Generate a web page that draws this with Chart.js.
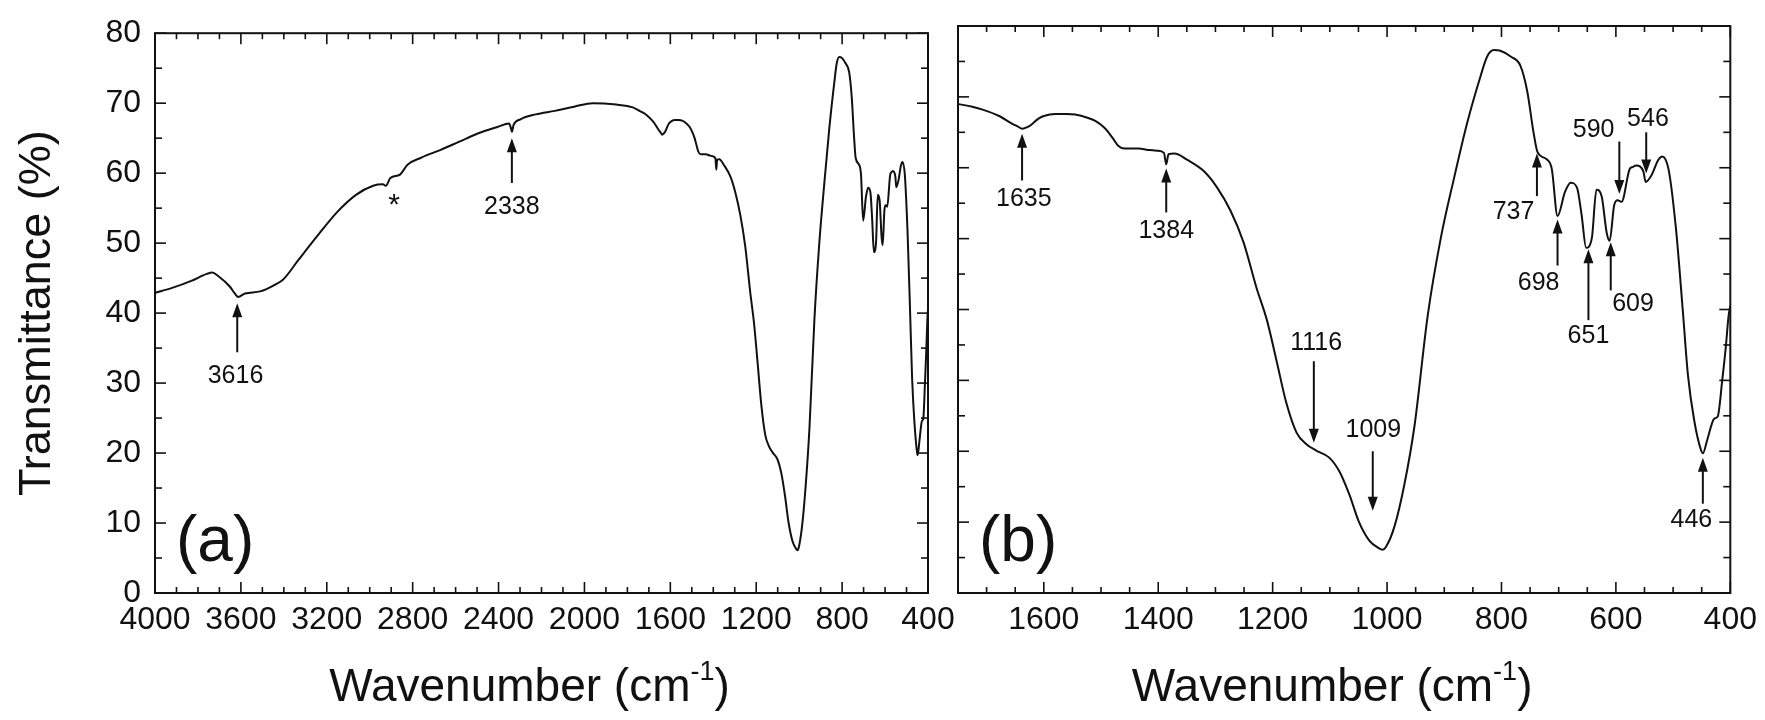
<!DOCTYPE html>
<html><head><meta charset="utf-8">
<script src="https://cdn.jsdelivr.net/npm/chart.js@4.4.1/dist/chart.umd.min.js"></script>
<style>
html,body{margin:0;padding:0;background:#fff;}
#wrap{position:relative;width:1765px;height:720px;}
canvas{position:absolute;left:0;top:0;}
</style></head><body>
<div id="wrap"><canvas id="ca" width="1765" height="720"></canvas><canvas id="cb" width="1765" height="720"></canvas></div>
<script>
// ---- data (wavenumber, transmittance %) ----
const wnHigh = [4000,3920,3831,3759,3733,3706,3652,3626,3613,3581,3510,3439,3403,3332,3242,3153,3064,2984,2939,2925,2904,2859,2841,2824,2761,2672,2583,2494,2405,2351,2342,2338,2330,2298,2227,2138,2048,1961,1852,1775];
const tHigh  = [42.9,43.6,44.6,45.6,45.8,45.3,43.8,42.7,42.3,42.8,43.1,44.1,44.8,47.6,51.1,54.4,56.9,58.2,58.4,58.2,59.3,59.8,60.5,61.2,62.2,63.3,64.5,65.7,66.6,67.1,66.4,65.9,66.9,67.7,68.4,68.9,69.5,70.0,69.8,69.4];
const wnLow = [1750,1725,1707,1678,1655,1645,1638,1630,1623,1610,1600,1580,1560,1545,1525,1510,1495,1487,1478,1470,1459,1435,1415,1401,1390,1386,1382,1372,1349,1320,1297,1274,1251,1228,1210,1193,1176,1158,1141,1124,1101,1083,1066,1049,1031,1014,1008,1002,987,970,952,929,906,883,860,837,825,813,802,784,767,755,744,737,721,712,702,689,679,668,660,652,642,634,625,616,611,603,597,590,576,571,564,552,548,538,526,519,508,495,483,474,463,451,448,440,428,422,414,408,403,400];
const tLow  = [69.0,68.6,68.2,67.3,66.2,65.8,65.5,65.7,66.0,66.9,67.3,67.6,67.6,67.5,67.1,66.6,65.7,65.0,64.0,63.1,62.7,62.7,62.5,62.4,62.1,60.5,61.9,62.0,61.1,59.5,57.2,54.0,49.5,43.0,38.5,32.7,26.8,22.6,21.0,20.1,19.1,17.1,13.9,10.0,7.4,6.3,6.1,6.5,9.4,15.2,23.6,39.1,50.1,58.5,66.3,72.8,75.7,76.6,76.5,75.7,74.4,70.8,65.0,62.2,61.2,59.8,53.2,56.6,57.9,57.2,53.4,48.7,50.1,56.9,56.0,50.8,49.7,54.7,55.4,55.2,59.8,60.1,60.3,59.5,58.0,58.9,61.1,61.6,59.8,51.4,39.8,30.7,24.3,20.1,19.7,21.7,24.6,24.9,30.1,34.6,39.1,40.5];
const xTicksA = [4000,3600,3200,2800,2400,2000,1600,1200,800,400];
const xTicksB = [1600,1400,1200,1000,800,600,400];
const yTicks  = [0,10,20,30,40,50,60,70,80];

// annotations: label text, label centre (x,y), arrow x, arrow tail y, arrow tip y
const annA = [
  {text:'3616', lx:3625, ly:31.0, ax:3617, from:34.4, to:41.4},
  {text:'2338', lx:2338, ly:55.1, ax:2338, from:58.6, to:65.0},
  {text:'*',    lx:2886, ly:55.4}
];
const annB = [
  {text:'1635', lx:1635, ly:55.6, ax:1638, from:58.2, to:64.8},
  {text:'1384', lx:1386, ly:51.1, ax:1386, from:53.7, to:59.9},
  {text:'1116', lx:1124, ly:35.3, ax:1128, from:32.7, to:21.2},
  {text:'1009', lx:1024, ly:23.0, ax:1025, from:20.0, to:11.6},
  {text:'737',  lx:779,  ly:53.7, ax:738,  from:56.0, to:62.0},
  {text:'698',  lx:735,  ly:43.7, ax:702,  from:46.2, to:52.7},
  {text:'651',  lx:648,  ly:36.2, ax:648,  from:38.5, to:48.5},
  {text:'609',  lx:570,  ly:40.7, ax:609,  from:42.7, to:49.5},
  {text:'590',  lx:639,  ly:65.3, ax:594,  from:63.7, to:56.3},
  {text:'546',  lx:544,  ly:66.8, ax:547,  from:65.0, to:59.2},
  {text:'446',  lx:468,  ly:10.3, ax:448,  from:12.6, to:19.1}
];

const FONT = "'Liberation Sans', Arial, sans-serif";
const pts = (w, t) => w.map((v, i) => ({x: v, y: t[i]}));

const framePlugin = {
  id: 'frame',
  beforeDraw(chart, args, o) {
    if (o.bg) { const c = chart.ctx; c.save(); c.fillStyle = '#fff'; c.fillRect(0,0,chart.width,chart.height); c.restore(); }
  },
  afterDatasetsDraw(chart, args, o) {
    const {ctx, chartArea: a, scales: {x, y}} = chart;
    ctx.save();
    ctx.strokeStyle = '#111'; ctx.lineWidth = 2;
    ctx.strokeRect(a.left, a.top, a.right - a.left, a.bottom - a.top);
    ctx.lineWidth = 1.6;
    const ln = (x1, y1, x2, y2) => { ctx.beginPath(); ctx.moveTo(x1, y1); ctx.lineTo(x2, y2); ctx.stroke(); };
    for (let v = o.xMin; v <= o.xMax; v += o.xMinor) {
      const px = x.getPixelForValue(v);
      const len = (v % o.xMajor === 0) ? 11 : 6;
      ln(px, a.bottom, px, a.bottom - len);
      ln(px, a.top, px, a.top + len);
    }
    for (let v = 0; v <= 80; v += 5) {
      const py = y.getPixelForValue(v);
      const len = (v % 10 === 0) ? 11 : 7;
      ln(a.left, py, a.left + len, py);
      ln(a.right, py, a.right - len, py);
    }
    // annotations
    ctx.fillStyle = '#111'; ctx.strokeStyle = '#111';
    ctx.textAlign = 'center'; ctx.textBaseline = 'middle';
    for (const n of o.ann) {
      ctx.font = (n.text === '*' ? '30px ' : '25px ') + FONT;
      ctx.fillText(n.text, x.getPixelForValue(n.lx), y.getPixelForValue(n.ly));
      if (n.ax === undefined) continue;
      const ax = x.getPixelForValue(n.ax);
      const y1 = y.getPixelForValue(n.from), y2 = y.getPixelForValue(n.to);
      const dir = Math.sign(y2 - y1);
      ctx.lineWidth = 2;
      ln(ax, y1, ax, y2 - dir * 12);
      ctx.beginPath(); ctx.moveTo(ax, y2); ctx.lineTo(ax - 5, y2 - dir * 14); ctx.lineTo(ax + 5, y2 - dir * 14); ctx.closePath(); ctx.fill();
    }
    // panel letter
    ctx.textAlign = 'left'; ctx.textBaseline = 'alphabetic';
    ctx.font = '64px ' + FONT;
    ctx.fillText(o.letter, a.left + 21, a.bottom - 32);
    // x axis title
    const cx = (a.left + a.right) / 2 - 12, by = 701;
    const main = 'Wavenumber (cm', sup = '-1', end = ')';
    ctx.font = '46px ' + FONT; const w1 = ctx.measureText(main).width, w3 = ctx.measureText(end).width;
    ctx.font = '27px ' + FONT; const w2 = ctx.measureText(sup).width;
    let sx = cx - (w1 + w2 + w3) / 2;
    ctx.font = '46px ' + FONT; ctx.fillText(main, sx, by); sx += w1;
    ctx.font = '27px ' + FONT; ctx.fillText(sup, sx, by - 21); sx += w2;
    ctx.font = '46px ' + FONT; ctx.fillText(end, sx, by);
    if (o.ytitle) {
      ctx.save(); ctx.translate(38, (a.top + a.bottom) / 2); ctx.rotate(-Math.PI / 2);
      ctx.textAlign = 'center'; ctx.textBaseline = 'middle'; ctx.font = '45px ' + FONT;
      ctx.fillText('Transmittance (%)', 0, 0); ctx.restore();
    }
    ctx.restore();
  }
};

function makeChart(id, data, xMin, xMax, xTicks, pad, opts) {
  return new Chart(document.getElementById(id), {
    type: 'line',
    data: { datasets: [{ data: data, borderColor: '#111', borderWidth: 2, pointRadius: 0, cubicInterpolationMode: 'monotone', fill: false }] },
    options: {
      responsive: false, animation: false, devicePixelRatio: 1, events: [],
      layout: { padding: pad },
      plugins: { legend: { display: false }, tooltip: { enabled: false }, frame: opts },
      scales: {
        x: {
          type: 'linear', reverse: true, min: xMin, max: xMax,
          afterBuildTicks: s => { s.ticks = xTicks.map(v => ({value: v})); },
          afterFit: s => { s.height = 60; },
          grid: { display: false, drawTicks: false }, border: { display: false },
          ticks: { font: { family: FONT, size: 32 }, color: '#111', padding: 8, maxRotation: 0, autoSkip: false, callback: v => String(v) }
        },
        y: {
          min: 0, max: 80,
          afterBuildTicks: s => { s.ticks = yTicks.map(v => ({value: v})); },
          afterFit: s => { s.width = opts.ytitle ? 100 : 0; },
          grid: { display: false, drawTicks: false }, border: { display: false },
          ticks: { display: !!opts.ytitle, font: { family: FONT, size: 32 }, color: '#111', padding: 14, callback: v => String(v) }
        }
      }
    },
    plugins: [framePlugin]
  });
}

const dataA = pts(wnHigh.concat(wnLow), tHigh.concat(tLow));
const dataB = pts(wnLow, tLow);
makeChart('ca', dataA, 400, 4000, xTicksA, {left: 55, right: 1765 - 928, top: 26, bottom: 720 - 593 - 60},
  {bg: true, xMin: 400, xMax: 4000, xMinor: 100, xMajor: 400, ann: annA, letter: '(a)', ytitle: true});
makeChart('cb', dataB, 400, 1750, xTicksB, {left: 958, right: 1765 - 1733, top: 26, bottom: 720 - 593 - 60},
  {bg: false, xMin: 400, xMax: 1750, xMinor: 50, xMajor: 200, ann: annB, letter: '(b)', ytitle: false});
</script>
</body></html>
